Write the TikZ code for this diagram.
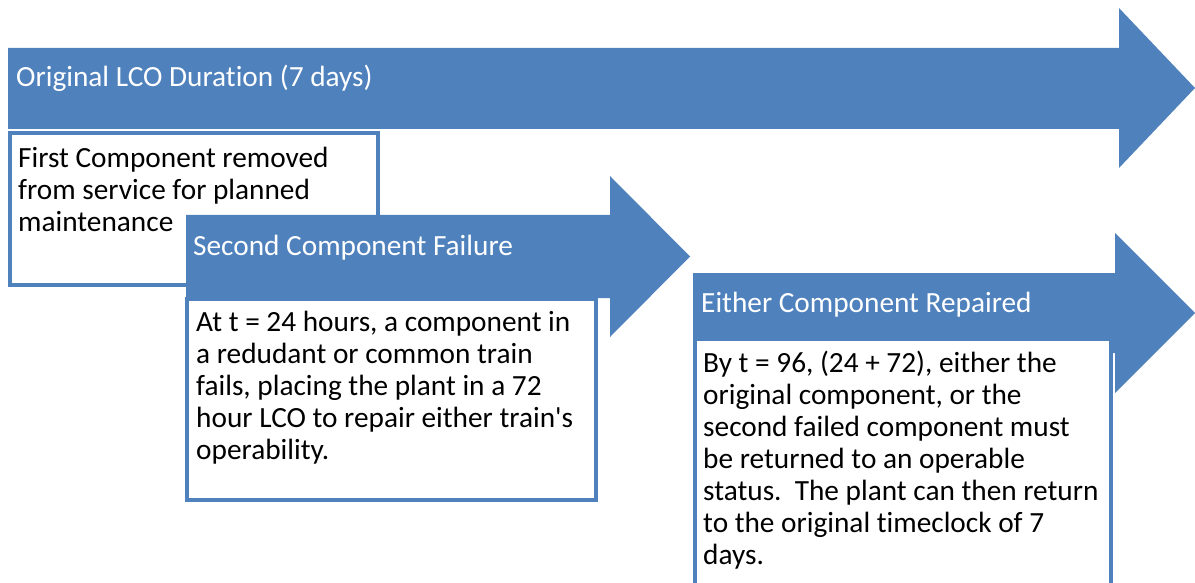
\documentclass[tikz,border=0pt]{standalone}
\usepackage{fontspec}
\setmainfont{Carlito}[Ligatures=TeX,RawFeature={-liga;-calt;-clig;-dlig}]
\definecolor{ablue}{HTML}{4F81BD}
\tikzset{
  bigarrow/.style={fill=ablue, draw=none},
  tbox/.style={draw=ablue, line width=3.5pt, fill=white},
  atitle/.style={anchor=base west, inner sep=0pt, text=white, font=\fontsize{29.3}{32}\selectfont},
  btext/.style={anchor=base west, inner sep=0pt, align=left, text=black, font=\fontsize{29.3}{32}\selectfont},
}
\begin{document}
\begin{tikzpicture}[x=1pt,y=-1pt]
\clip (0,0) rectangle (1195,583);
\fill[white] (0,0) rectangle (1195,583);
% arrow 1
\fill[bigarrow] (8,48) -- (1119,48) -- (1119,8) -- (1195,88) -- (1119,168) -- (1119,129) -- (8,129) -- cycle;
\node[atitle] (t1) at (16,87) {Original LCO Duration (7 days)};
\draw[tbox] (10,133) rectangle (378,285);
% base anchor of a multi-line node = baseline of its last line
\node[btext] (b1) at (18,231) {First Component removed\\from service for planned\\maintenance};
% arrow 2
\fill[bigarrow] (186,215) -- (610,215) -- (610,176) -- (690,256.5) -- (610,337) -- (610,298) -- (186,298) -- cycle;
\node[atitle] (t2) at (193,255) {Second Component Failure};
\draw[tbox] (187,299) rectangle (596,500);
\node[btext] (b2) at (196,459) {At t = 24 hours, a component in\\a redudant or common train\\fails, placing the plant in a 72\\hour LCO to repair either train\textquotesingle s\\operability.};
% arrow 3
\fill[bigarrow] (693,273) -- (1115,273) -- (1115,233) -- (1195,313) -- (1115,393) -- (1115,353) -- (693,353) -- cycle;
\node[atitle] (t3) at (701,312) {Either Component Repaired};
\draw[tbox] (695,339) rectangle (1111,600);
\node[btext] (b3) at (703,564) {By t = 96, (24 + 72), either the\\original component, or the\\second failed component must\\be returned to an operable\\status.\ \ The plant can then return\\to the original timeclock of 7\\days.};
\end{tikzpicture}
\end{document}
